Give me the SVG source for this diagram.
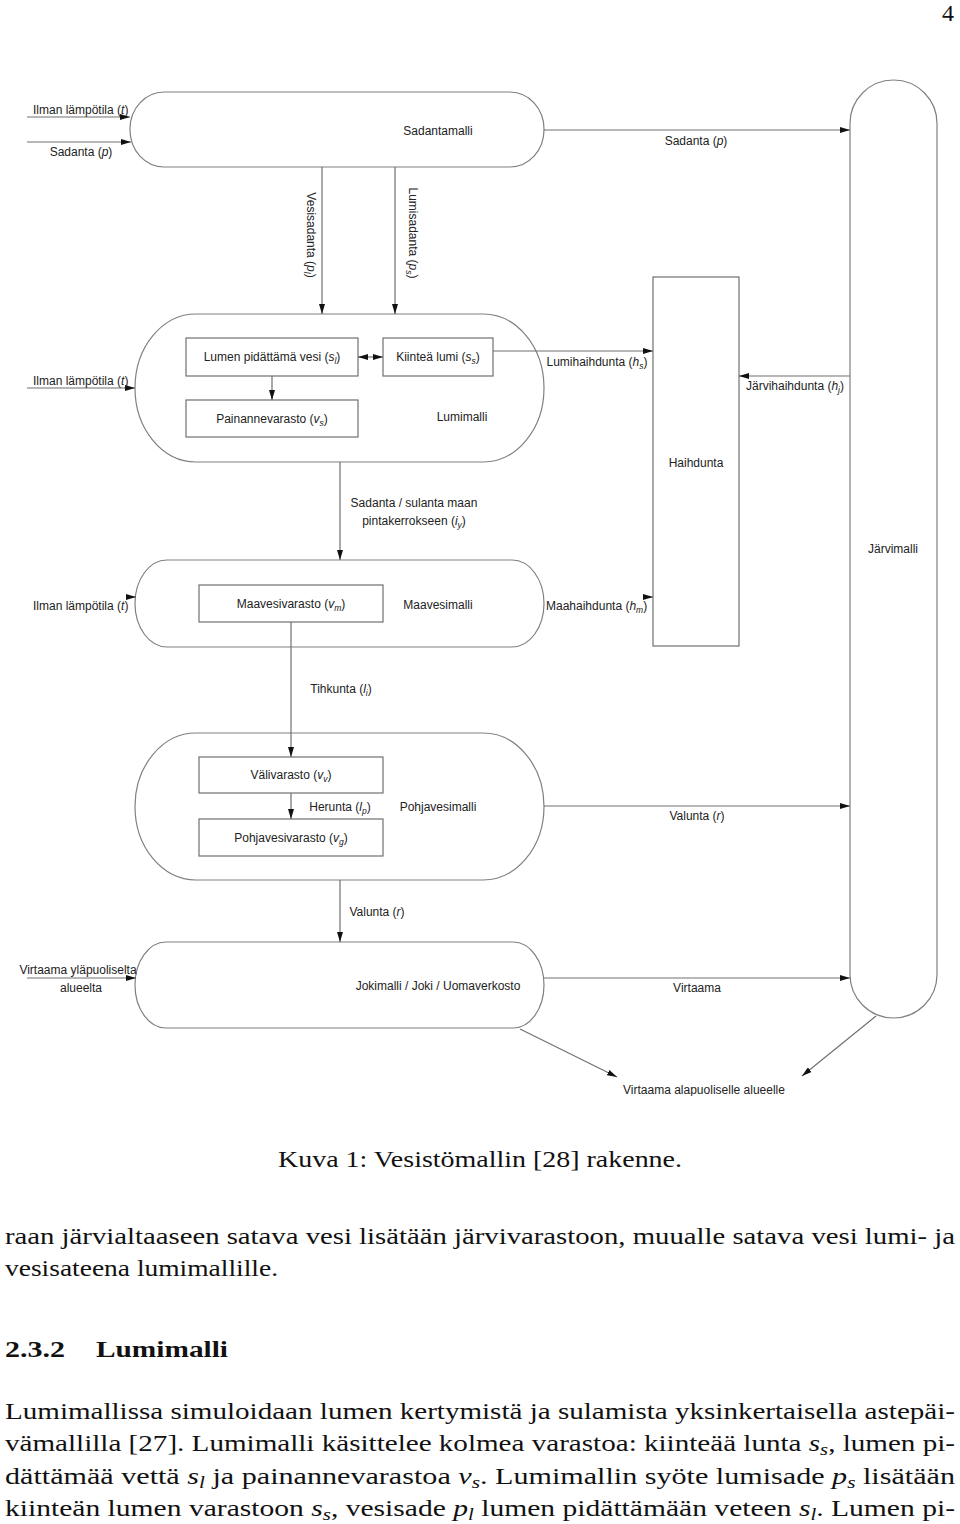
<svg xmlns="http://www.w3.org/2000/svg" width="960" height="1524" viewBox="0 0 960 1524">
<style>
.shape{fill:none;stroke:#808080;stroke-width:1.2}
.box{fill:none;stroke:#707070;stroke-width:1.2}
.lbl{font-family:"Liberation Sans",Arial,sans-serif;font-size:12px;fill:#222}
.mid{text-anchor:middle}
.it{font-style:italic}
.sb{font-size:8.5px;font-style:italic}
.con{fill:none;stroke:#707070;stroke-width:1.2}
.doc{font-family:"Liberation Serif","Times New Roman",serif;font-size:24px;fill:#111}
</style>
<defs>
<marker id="arr" viewBox="0 0 10 6" refX="10" refY="3" markerWidth="10" markerHeight="6" markerUnits="userSpaceOnUse" orient="auto-start-reverse">
<path d="M0,0 L10,3 L0,6 z" fill="#111"/>
</marker>
<clipPath id="clipBottom"><rect x="0" y="0" width="960" height="1096"/></clipPath>
</defs>
<rect x="0" y="0" width="960" height="1524" fill="#fff"/>

<text class="doc" x="948" y="21" text-anchor="middle">4</text>

<g id="sadantamalli">
<rect class="shape" x="130" y="92" width="414" height="75" rx="34" ry="37"/>
<text class="lbl mid" x="438" y="135">Sadantamalli</text>
</g>

<g id="lumimalli">
<rect class="shape" x="135" y="314" width="409" height="148" rx="61" ry="74"/>
<text class="lbl mid" x="462" y="421">Lumimalli</text>
</g>
<g id="lumen-pidattama-vesi">
<rect class="box" x="186" y="338" width="172" height="38"/>
<text class="lbl mid" x="272" y="361">Lumen pidättämä vesi (<tspan class="it">s</tspan><tspan class="sb" dy="3">l</tspan><tspan dy="-3">)</tspan></text>
</g>
<g id="kiintea-lumi">
<rect class="box" x="383" y="338" width="110" height="38"/>
<text class="lbl mid" x="438" y="361">Kiinteä lumi (<tspan class="it">s</tspan><tspan class="sb" dy="3">s</tspan><tspan dy="-3">)</tspan></text>
</g>
<g id="painannevarasto">
<rect class="box" x="186" y="400" width="172" height="37"/>
<text class="lbl mid" x="272" y="423">Painannevarasto (<tspan class="it">v</tspan><tspan class="sb" dy="3">s</tspan><tspan dy="-3">)</tspan></text>
</g>

<g id="haihdunta">
<rect class="box" x="653" y="277" width="86" height="369"/>
<text class="lbl mid" x="696" y="467">Haihdunta</text>
</g>

<g id="jarvimalli">
<rect class="shape" x="850" y="80" width="87" height="938" rx="43.5" ry="43.5"/>
<text class="lbl mid" x="893" y="553">Järvimalli</text>
</g>

<g id="maavesimalli">
<rect class="shape" x="135" y="560" width="409" height="87" rx="32" ry="43.5"/>
<text class="lbl mid" x="438" y="609">Maavesimalli</text>
</g>
<g id="maavesivarasto">
<rect class="box" x="199" y="585" width="184" height="37"/>
<text class="lbl mid" x="291" y="608">Maavesivarasto (<tspan class="it">v</tspan><tspan class="sb" dy="3">m</tspan><tspan dy="-3">)</tspan></text>
</g>

<g id="pohjavesimalli">
<rect class="shape" x="135" y="733" width="409" height="147" rx="61" ry="73.5"/>
<text class="lbl mid" x="438" y="811">Pohjavesimalli</text>
</g>
<g id="valivarasto">
<rect class="box" x="199" y="757" width="184" height="36"/>
<text class="lbl mid" x="291" y="779">Välivarasto (<tspan class="it">v</tspan><tspan class="sb" dy="3">v</tspan><tspan dy="-3">)</tspan></text>
</g>
<g id="pohjavesivarasto">
<rect class="box" x="199" y="819" width="184" height="37"/>
<text class="lbl mid" x="291" y="842">Pohjavesivarasto (<tspan class="it">v</tspan><tspan class="sb" dy="3">g</tspan><tspan dy="-3">)</tspan></text>
</g>

<g id="jokimalli">
<rect class="shape" x="135" y="942" width="409" height="86" rx="31" ry="43"/>
<text class="lbl mid" x="438" y="990">Jokimalli / Joki / Uomaverkosto</text>
</g>

<g id="connectors">
<line class="con" x1="27" y1="117" x2="130" y2="117" marker-end="url(#arr)"/>
<line class="con" x1="27" y1="142" x2="131" y2="142" marker-end="url(#arr)"/>
<line class="con" x1="544" y1="130" x2="850" y2="130" marker-end="url(#arr)"/>
<line class="con" x1="322" y1="167" x2="322" y2="314" marker-end="url(#arr)"/>
<line class="con" x1="395" y1="167" x2="395" y2="314" marker-end="url(#arr)"/>
<line class="con" x1="27" y1="388" x2="135" y2="388" marker-end="url(#arr)"/>
<line class="con" x1="358" y1="357" x2="383" y2="357" marker-start="url(#arr)" marker-end="url(#arr)"/>
<line class="con" x1="272" y1="376" x2="272" y2="400" marker-end="url(#arr)"/>
<line class="con" x1="493" y1="351" x2="653" y2="351" marker-end="url(#arr)"/>
<line class="con" x1="850" y1="376" x2="739" y2="376" marker-end="url(#arr)"/>
<line class="con" x1="340" y1="462" x2="340" y2="560" marker-end="url(#arr)"/>
<line class="con" x1="127" y1="597" x2="136" y2="597" marker-end="url(#arr)"/>
<line class="con" x1="644" y1="597" x2="653" y2="597" marker-end="url(#arr)"/>
<line class="con" x1="291" y1="622" x2="291" y2="757" marker-end="url(#arr)"/>
<line class="con" x1="291" y1="793" x2="291" y2="819" marker-end="url(#arr)"/>
<line class="con" x1="544" y1="806" x2="850" y2="806" marker-end="url(#arr)"/>
<line class="con" x1="340" y1="880" x2="340" y2="942" marker-end="url(#arr)"/>
<line class="con" x1="27" y1="978" x2="136" y2="978" marker-end="url(#arr)"/>
<line class="con" x1="544" y1="978" x2="850" y2="978" marker-end="url(#arr)"/>
<line class="con" x1="520" y1="1029" x2="617" y2="1077" marker-end="url(#arr)"/>
<line class="con" x1="876" y1="1016" x2="802" y2="1076" marker-end="url(#arr)"/>
</g>

<g id="connector-labels">
<text class="lbl" x="33" y="114">Ilman lämpötila (<tspan class="it">t</tspan>)</text>
<text class="lbl mid" x="81" y="156">Sadanta (<tspan class="it">p</tspan>)</text>
<text class="lbl mid" x="696" y="145">Sadanta (<tspan class="it">p</tspan>)</text>
<text class="lbl mid" transform="translate(311,235) rotate(90)" y="4">Vesisadanta (<tspan class="it">p</tspan><tspan class="sb" dy="3">l</tspan><tspan dy="-3">)</tspan></text>
<text class="lbl mid" transform="translate(413,233) rotate(90)" y="4">Lumisadanta (<tspan class="it">p</tspan><tspan class="sb" dy="3">s</tspan><tspan dy="-3">)</tspan></text>
<text class="lbl" x="33" y="385">Ilman lämpötila (<tspan class="it">t</tspan>)</text>
<text class="lbl mid" x="597" y="366">Lumihaihdunta (<tspan class="it">h</tspan><tspan class="sb" dy="3">s</tspan><tspan dy="-3">)</tspan></text>
<text class="lbl mid" x="795" y="390">Järvihaihdunta (<tspan class="it">h</tspan><tspan class="sb" dy="3">j</tspan><tspan dy="-3">)</tspan></text>
<text class="lbl mid" x="414" y="507">Sadanta / sulanta maan</text>
<text class="lbl mid" x="414" y="525">pintakerrokseen (<tspan class="it">i</tspan><tspan class="sb" dy="3">y</tspan><tspan dy="-3">)</tspan></text>
<text class="lbl" x="33" y="610">Ilman lämpötila (<tspan class="it">t</tspan>)</text>
<text class="lbl" x="546" y="610">Maahaihdunta (<tspan class="it">h</tspan><tspan class="sb" dy="3">m</tspan><tspan dy="-3">)</tspan></text>
<text class="lbl mid" x="341" y="693">Tihkunta (<tspan class="it">l</tspan><tspan class="sb" dy="3">i</tspan><tspan dy="-3">)</tspan></text>
<text class="lbl mid" x="340" y="811">Herunta (<tspan class="it">l</tspan><tspan class="sb" dy="3">p</tspan><tspan dy="-3">)</tspan></text>
<text class="lbl mid" x="697" y="820">Valunta (<tspan class="it">r</tspan>)</text>
<text class="lbl mid" x="377" y="916">Valunta (<tspan class="it">r</tspan>)</text>
<text class="lbl mid" x="78" y="974">Virtaama yläpuoliselta</text>
<text class="lbl mid" x="81" y="992">alueelta</text>
<text class="lbl mid" x="697" y="992">Virtaama</text>
<text class="lbl mid" x="704" y="1094" clip-path="url(#clipBottom)">Virtaama alapuoliselle alueelle</text>
</g>

<g id="document-text">
<text class="doc" x="278" y="1167" textLength="404" lengthAdjust="spacingAndGlyphs">Kuva 1: Vesistömallin [28] rakenne.</text>
<text class="doc" x="5" y="1244" textLength="950" lengthAdjust="spacingAndGlyphs">raan järvialtaaseen satava vesi lisätään järvivarastoon, muualle satava vesi lumi- ja</text>
<text class="doc" x="5" y="1276" textLength="273" lengthAdjust="spacingAndGlyphs">vesisateena lumimallille.</text>
<text class="doc" x="5" y="1357" font-weight="bold" textLength="60" lengthAdjust="spacingAndGlyphs">2.3.2</text>
<text class="doc" x="96" y="1357" font-weight="bold" textLength="132" lengthAdjust="spacingAndGlyphs">Lumimalli</text>
<text class="doc" x="5" y="1419" textLength="950" lengthAdjust="spacingAndGlyphs">Lumimallissa simuloidaan lumen kertymistä ja sulamista yksinkertaisella astepäi-</text>
<text class="doc" x="5" y="1451" textLength="950" lengthAdjust="spacingAndGlyphs">vämallilla [27]. Lumimalli käsittelee kolmea varastoa: kiinteää lunta <tspan font-style="italic">s</tspan><tspan font-style="italic" font-size="17" dy="4">s</tspan><tspan dy="-4">, lumen pi-</tspan></text>
<text class="doc" x="5" y="1484" textLength="950" lengthAdjust="spacingAndGlyphs">dättämää vettä <tspan font-style="italic">s</tspan><tspan font-style="italic" font-size="17" dy="4">l</tspan><tspan dy="-4"> ja painannevarastoa </tspan><tspan font-style="italic">v</tspan><tspan font-style="italic" font-size="17" dy="4">s</tspan><tspan dy="-4">. Lumimallin syöte lumisade </tspan><tspan font-style="italic">p</tspan><tspan font-style="italic" font-size="17" dy="4">s</tspan><tspan dy="-4"> lisätään</tspan></text>
<text class="doc" x="5" y="1516" textLength="950" lengthAdjust="spacingAndGlyphs">kiinteän lumen varastoon <tspan font-style="italic">s</tspan><tspan font-style="italic" font-size="17" dy="4">s</tspan><tspan dy="-4">, vesisade </tspan><tspan font-style="italic">p</tspan><tspan font-style="italic" font-size="17" dy="4">l</tspan><tspan dy="-4"> lumen pidättämään veteen </tspan><tspan font-style="italic">s</tspan><tspan font-style="italic" font-size="17" dy="4">l</tspan><tspan dy="-4">. Lumen pi-</tspan></text>
</g>
</svg>
